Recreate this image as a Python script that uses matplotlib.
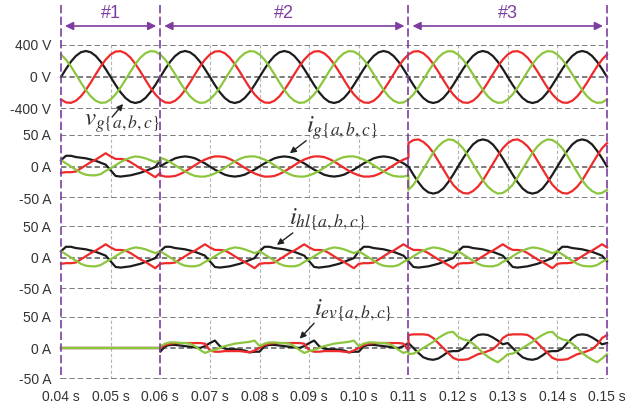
import numpy as np
import matplotlib.pyplot as plt
import matplotlib.transforms as mtransforms
from matplotlib.lines import Line2D

plt.rcParams['font.family'] = ['Liberation Sans', 'DejaVu Sans']
plt.rcParams['mathtext.fontset'] = 'stix'

# operating intervals
seg_edges = [0.04, 0.06, 0.11, 0.15]
seg_names = ['#1', '#2', '#3']
xticks = [0.04, 0.05, 0.06, 0.07, 0.08, 0.09, 0.10, 0.11, 0.12, 0.13, 0.14, 0.15]
xtick_labels = ['0.04 s', '0.05 s', '0.06 s', '0.07 s', '0.08 s', '0.09 s',
                '0.10 s', '0.11 s', '0.12 s', '0.13 s', '0.14 s', '0.15 s']

# one 20 ms period per phase (a=black, b=red, c=green), 1 ms steps,
# read from the scope traces, starting at the beginning of each interval
vg_a = [0, 100, 191, 263, 309, 325, 309, 263, 191, 100, 0, -100, -191, -263, -309, -325, -309, -263, -191, -100]
vg_b = [-281, -318, -323, -297, -242, -163, -68, 34, 132, 217, 281, 318, 323, 297, 242, 163, 68, -34, -132, -217]
vg_c = [281, 217, 132, 34, -68, -163, -242, -297, -323, -318, -281, -217, -132, -34, 68, 163, 242, 297, 323, 318]

# household load current (same in every interval)
ihl_a = [10, 17, 17, 15, 14, 13, 11, 9, 6, 3, -6, -15, -16, -15, -14, -12, -10, -7, -4, -1]
ihl_b = [-10, -9, -9, -8, -3, 2, 7, 11, 16, 21, 16, 12, 12, 11, 7, 2, -3, -7, -12, -17]
ihl_c = [10, 5, 0, -5, -10, -13, -14, -14, -12, -7, -3, 2, 7, 11, 14, 16, 15, 13, 10, 7]

# grid current, interval #2 and #3 (interval #1 equals the load current)
ig2_a = [0, 5, 9, 13, 15, 16, 15, 13, 9, 5, 0, -5, -9, -13, -15, -16, -15, -13, -9, -5]
ig2_b = [-14, -16, -16, -15, -12, -8, -3, 2, 7, 11, 14, 16, 16, 15, 12, 8, 3, -2, -7, -11]
ig2_c = [14, 11, 7, 2, -3, -8, -12, -15, -16, -16, -14, -11, -7, -2, 3, 8, 12, 15, 16, 16]
ig3_a = [0, -13, -25, -35, -41, -43, -41, -35, -25, -13, 0, 13, 25, 35, 41, 43, 41, 35, 25, 13]
ig3_b = [37, 42, 43, 39, 32, 22, 9, -4, -17, -29, -37, -42, -43, -39, -32, -22, -9, 4, 17, 29]
ig3_c = [-37, -29, -17, -4, 9, 22, 32, 39, 43, 42, 37, 29, 17, 4, -9, -22, -32, -39, -43, -42]

# EV charger current, off in interval #1
iev1 = [0] * 20
iev2_a = [-6, 3, 5, 5, 4, 3, 2, 1, 0, 3, 8, 12, 3, -1, -2, -2, -3, -4, -7, -6]
iev2_b = [0, 5, 7, 8, 8, 8, 8, 8, 8, 7, -4, -6, -6, -5, -5, -5, -5, -6, -7, -4]
iev2_c = [3, 7, 9, 9, 8, 8, 7, 3, -3, -8, -5, -3, 0, 3, 5, 7, 8, 9, 10, 12]
iev3_a = [8, 0, -8, -15, -18, -19, -17, -12, -6, -5, -5, -1, 8, 16, 21, 22, 21, 17, 12, 6]
iev3_b = [21, 22, 22, 22, 21, 16, 8, 0, -8, -16, -19, -19, -18, -14, -10, -8, -5, -2, 5, 16]
iev3_c = [-10, -9, -5, 0, 5, 10, 16, 21, 25, 26, 18, 14, 12, 7, 0, -8, -14, -19, -23, -17]

dt = 0.001


def build(periods):
    # periods: one list per interval, repeated over that interval
    ts, ys = [], []
    if len(periods) == 1:
        spans = [(seg_edges[0], seg_edges[-1])]
    else:
        spans = list(zip(seg_edges[:-1], seg_edges[1:]))
    for per, (t0, t1) in zip(periods, spans):
        n = int(round((t1 - t0) / dt))
        ts.append(t0 + dt * np.arange(n + 1))
        ys.append(np.resize(per, n + 1))
    return np.concatenate(ts), np.concatenate(ys)


panels = [
    (400, 'V', [[vg_a], [vg_b], [vg_c]]),
    (50, 'A', [[ihl_a, ig2_a, ig3_a], [ihl_b, ig2_b, ig3_b], [ihl_c, ig2_c, ig3_c]]),
    (50, 'A', [[ihl_a], [ihl_b], [ihl_c]]),
    (50, 'A', [[iev1, iev2_a, iev3_a], [iev1, iev2_b, iev3_b], [iev1, iev2_c, iev3_c]]),
]
colors = ['#1c1c1c', '#ee2a2a', '#8cc63e']
purple = '#7e3ea0'

W, H = 628, 409
fig = plt.figure(figsize=(W / 100, H / 100), dpi=100)
rows = [(45, 109), (135, 198), (226, 289), (317, 379)]

axes = []
for (top, bot), (lim, unit, phases) in zip(rows, panels):
    ax = fig.add_axes([61 / W, 1 - bot / H, 546 / W, (bot - top) / H])
    for c, per in zip(colors, phases):
        t, y = build(per)
        ax.plot(t, y, color=c, lw=1.6, clip_on=False, solid_joinstyle='round')
    for g in xticks:
        if g not in seg_edges:
            ax.axvline(g, color='#b4b4b4', lw=0.8, ls=(0, (3, 2)), zorder=0)
    for h in (-lim, 0, lim):
        ax.axhline(h, color='#5a5a5a', lw=1.1, ls=(0, (3.5, 2)), zorder=0.5)
    ax.set_xlim(seg_edges[0], seg_edges[-1])
    ax.set_ylim(-lim, lim)
    ax.set_yticks([lim, 0, -lim])
    ax.set_yticklabels([f'{lim} {unit}', f'0 {unit}', f'-{lim} {unit}'])
    ax.set_xticks(xticks)
    ax.set_xticklabels(xtick_labels)
    ax.tick_params(length=0, labelsize=10, labelcolor='#333333', pad=7)
    ax.tick_params(axis='x', labelbottom=False, pad=8)
    for s in ax.spines.values():
        s.set_visible(False)
    ax.patch.set_alpha(0)
    axes.append(ax)

axes[-1].tick_params(axis='x', labelbottom=True)

# interval markers
trans = mtransforms.blended_transform_factory(axes[-1].transData, fig.transFigure)
for x in seg_edges:
    fig.add_artist(Line2D([x, x], [1 - 5 / H, 1 - 379 / H], transform=trans,
                          color=purple, lw=1.2, ls=(0, (5, 2))))
gap = 0.0008
for name, x0, x1 in zip(seg_names, seg_edges[:-1], seg_edges[1:]):
    axes[0].annotate('', xy=(x1 - gap, 1 - 26 / H), xytext=(x0 + gap, 1 - 26 / H),
                     xycoords=trans, textcoords=trans, annotation_clip=False,
                     arrowprops=dict(arrowstyle='<|-|>', color=purple, lw=1.2,
                                     mutation_scale=12, shrinkA=0, shrinkB=0))
    fig.text((x0 + x1) / 2, 1 - 14 / H, name, transform=trans, ha='center',
             va='center', color=purple, fontsize=13)

# trace labels
labels = [
    (axes[0], r'$v_{g\{a,b,c\}}$', (0.0446, -575), (0.0503, -500), (0.0525, -337)),
    (axes[1], r'$i_{g\{a,b,c\}}$', (0.0893, 60), (0.0894, 41), (0.0861, 21)),
    (axes[2], r'$i_{hl\{a,b,c\}}$', (0.0860, 60), (0.0867, 39), (0.0835, 20)),
    (axes[3], r'$i_{ev\{a,b,c\}}$', (0.0910, 60), (0.0910, 40), (0.0881, 15)),
]
for ax, txt, pos, start, tip in labels:
    ax.text(pos[0], pos[1], txt, fontsize=18, color='#333333', ha='left',
            va='center', clip_on=False)
    ax.annotate('', xy=tip, xytext=start, annotation_clip=False,
                arrowprops=dict(arrowstyle='-|>', color='#222222', lw=1.0,
                                mutation_scale=9, shrinkA=0, shrinkB=0))

fig.savefig('out.png', dpi=100)
